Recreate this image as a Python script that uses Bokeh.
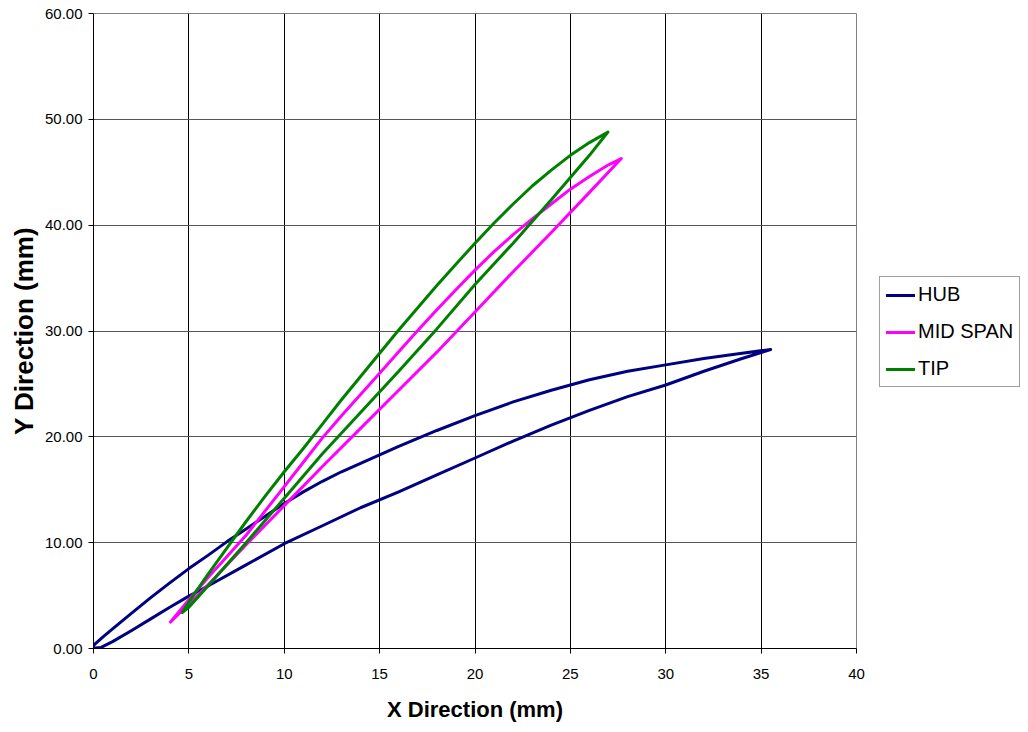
from bokeh.plotting import figure
from bokeh.models import Range1d, FixedTicker, NumeralTickFormatter, Legend, LegendItem
from bokeh.embed import file_html
from bokeh.resources import INLINE

# ---- data (mm) ----
hub_upper_x = [0.0, 0.5, 1, 2, 3, 4, 5, 6, 7, 8, 9, 10, 11, 12, 13, 14, 15, 16, 17, 18, 20, 22, 24, 26, 28, 30, 32, 34, 35.5]
hub_upper_y = [0.3, 1.1, 1.85, 3.35, 4.8, 6.2, 7.55, 8.8, 10.1, 11.3, 12.5, 13.7, 14.8, 15.8, 16.7, 17.5, 18.3, 19.1, 19.85, 20.6, 22.0, 23.3, 24.4, 25.4, 26.2, 26.8, 27.4, 27.9, 28.25]
hub_lower_x = [0.05, 0.4, 1, 2, 3, 4, 5, 6, 8, 10, 12, 14, 16, 18, 20, 22, 24, 26, 28, 30, 32, 34, 35.5]
hub_lower_y = [0.05, 0.1, 0.65, 1.7, 2.8, 3.9, 4.95, 5.9, 7.9, 9.9, 11.6, 13.3, 14.8, 16.4, 18.0, 19.6, 21.1, 22.5, 23.8, 24.9, 26.2, 27.4, 28.25]

mid_upper_x = [4.04, 5, 6, 7, 8, 9, 10, 11, 12, 13, 14, 15, 16, 17, 18, 19, 20, 21, 22, 23, 24, 25, 26, 27, 27.67]
mid_upper_y = [2.5, 4.6, 6.7, 8.7, 10.7, 13.0, 15.3, 17.6, 19.9, 22.0, 24.0, 26.0, 28.05, 30.05, 32.0, 33.9, 35.75, 37.5, 39.1, 40.6, 42.0, 43.4, 44.6, 45.7, 46.3]
mid_lower_x = [4.04, 5, 6, 8, 10, 12, 14, 16, 18, 20, 22, 24, 26, 27.67]
mid_lower_y = [2.5, 4.2, 6.0, 9.8, 13.5, 17.2, 20.8, 24.4, 28.0, 31.8, 35.6, 39.3, 43.1, 46.3]

tip_upper_x = [4.65, 5, 6, 7, 8, 9, 10, 11, 12, 13, 14, 15, 16, 17, 18, 19, 20, 21, 22, 23, 24, 25, 26, 26.97]
tip_upper_y = [3.4, 4.4, 7.0, 9.5, 12.0, 14.4, 16.7, 18.9, 21.2, 23.5, 25.7, 27.9, 30.1, 32.2, 34.3, 36.3, 38.3, 40.2, 42.0, 43.7, 45.2, 46.6, 47.8, 48.8]
tip_lower_x = [4.65, 5, 6, 8, 10, 12, 14, 16, 18, 20, 22, 24, 26, 26.97]
tip_lower_y = [3.4, 3.9, 5.9, 10.0, 14.2, 18.4, 22.3, 26.2, 30.2, 34.4, 38.3, 42.4, 46.6, 48.8]

series_names = ["HUB", "MID SPAN", "TIP"]
series_colors = ["#000080", "#FF00FF", "#008000"]

x_ticks = [0, 5, 10, 15, 20, 25, 30, 35, 40]
y_ticks = [0, 10, 20, 30, 40, 50, 60]


def loop(ux, uy, lx, ly):
    return list(ux) + list(reversed(lx)), list(uy) + list(reversed(ly))


series = [
    loop(hub_upper_x, hub_upper_y, hub_lower_x, hub_lower_y),
    loop(mid_upper_x, mid_upper_y, mid_lower_x, mid_lower_y),
    loop(tip_upper_x, tip_upper_y, tip_lower_x, tip_lower_y),
]

p = figure(frame_width=763, frame_height=635, x_range=Range1d(0, 40), y_range=Range1d(0, 60),
           output_backend="svg", toolbar_location=None,
           min_border_left=93, min_border_right=170, min_border_top=13, min_border_bottom=60)

p.background_fill_color = "white"
p.border_fill_color = "white"
p.outline_line_color = "#808080"
p.outline_line_width = 1

p.xgrid.grid_line_color = "#000000"
p.ygrid.grid_line_color = "#555555"
p.xgrid.ticker = FixedTicker(ticks=x_ticks)
p.ygrid.ticker = FixedTicker(ticks=y_ticks)

p.xaxis.ticker = FixedTicker(ticks=x_ticks)
p.yaxis.ticker = FixedTicker(ticks=y_ticks)
p.yaxis.formatter = NumeralTickFormatter(format="0.00")

for ax in (p.xaxis, p.yaxis):
    ax.axis_line_color = "#000000"
    ax.major_tick_line_color = "#000000"
    ax.minor_tick_line_color = None
    ax.major_tick_in = 0
    ax.major_tick_out = 5
    ax.major_label_text_font = "Liberation Sans"
    ax.major_label_text_font_size = "15px"
    ax.major_label_text_color = "#000000"
    ax.axis_label_text_font = "Liberation Sans"
    ax.axis_label_text_font_style = "bold"
    ax.axis_label_text_color = "#000000"

p.xaxis.axis_label = "X Direction (mm)"
p.yaxis.axis_label = "Y Direction (mm)"
p.xaxis.axis_label_text_font_size = "22px"
p.yaxis.axis_label_text_font_size = "26px"
p.xaxis.major_label_standoff = 15
p.yaxis.major_label_standoff = 6
p.xaxis.axis_label_standoff = 15
p.yaxis.axis_label_standoff = 3

items = []
for (xs, ys), name, col in zip(series, series_names, series_colors):
    r = p.line(xs, ys, line_color=col, line_width=3, line_join="round", line_cap="round")
    items.append(LegendItem(label=name, renderers=[r]))

legend = Legend(items=items, location=(23, 261))
legend.border_line_color = "#404040"
legend.border_line_width = 1
legend.background_fill_color = "white"
legend.background_fill_alpha = 1
legend.label_text_font = "Liberation Sans"
legend.label_text_font_size = "20px"
legend.label_text_color = "#000000"
legend.glyph_width = 29
legend.glyph_height = 20
legend.label_height = 20
legend.label_standoff = 3
legend.spacing = 14
legend.padding = 6
legend.margin = 0
p.add_layout(legend, "right")

open("out.html", "w").write(file_html(p, INLINE))
